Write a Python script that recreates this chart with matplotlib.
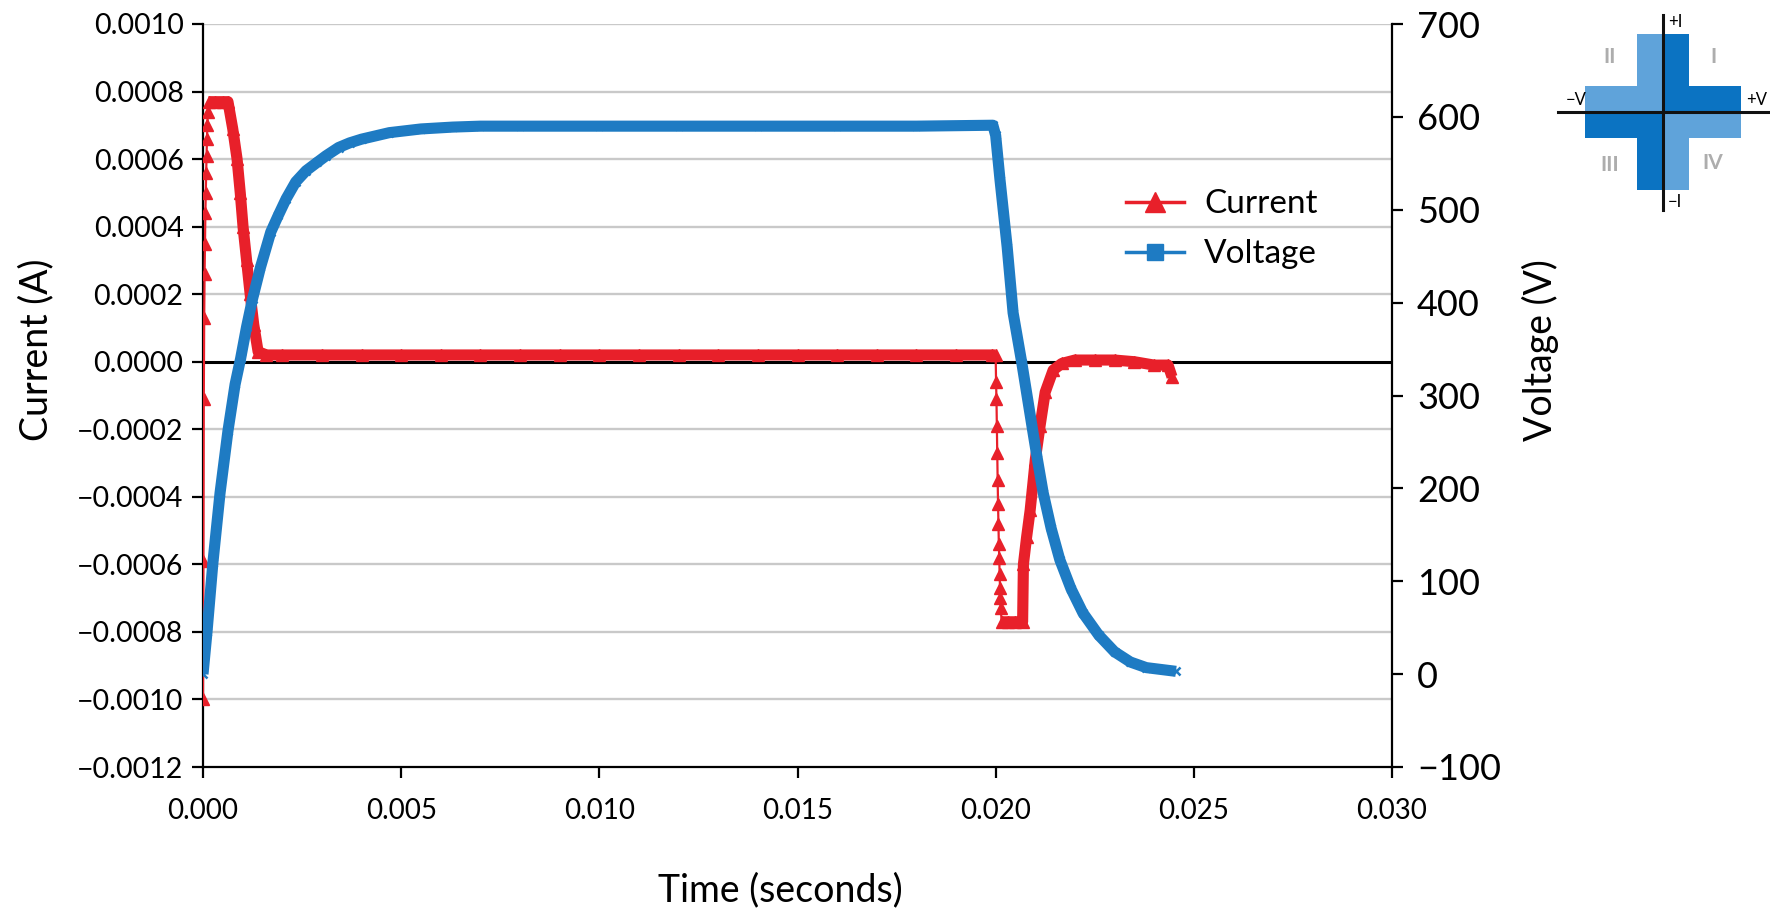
import matplotlib
matplotlib.use("Agg")
import matplotlib.pyplot as plt
import numpy as np
from matplotlib.lines import Line2D
from matplotlib.patches import Polygon
from matplotlib.ticker import FixedLocator, FuncFormatter

plt.rcParams["font.family"] = ["Lato", "DejaVu Sans"]

RED = "#E8202A"
BLUE = "#1E7BC3"
GRID = "#C9C9C9"

# --- data ------------------------------------------------------------------
# current (A) vs time (s)
cur_t = [
    0.00000, 0.00001, 0.00002, 0.00003, 0.00004, 0.00005, 0.00006, 0.00007,
    0.00008, 0.00009, 0.00010, 0.00011, 0.00012, 0.00014,
    0.00030, 0.00050, 0.00063,
    0.00075, 0.00086, 0.00094, 0.00101, 0.00110, 0.00119, 0.00128, 0.00139,
    0.0016, 0.0020, 0.0030, 0.0040, 0.0050, 0.0060, 0.0070, 0.0080, 0.0090,
    0.0100, 0.0110, 0.0120, 0.0130, 0.0140, 0.0150, 0.0160, 0.0170, 0.0180,
    0.0190, 0.0199,
    0.02000, 0.02001, 0.02002, 0.02003, 0.02004, 0.02005, 0.02006, 0.02007,
    0.02008, 0.02009, 0.02010, 0.02011, 0.02012, 0.02013, 0.02015,
    0.0203, 0.0205, 0.02068,
    0.02070, 0.02078, 0.02087, 0.02094, 0.02100, 0.02112, 0.02125, 0.02145,
    0.02167, 0.0220, 0.0225, 0.0230, 0.0235, 0.0240, 0.02435, 0.02445,
]
cur_a = [
    -0.00100, -0.00059, -0.00011, 0.00013, 0.00026, 0.00035, 0.00044, 0.00050,
    0.00056, 0.00061, 0.00066, 0.00070, 0.00074, 0.00077,
    0.00077, 0.00077, 0.00077,
    0.00069, 0.00060, 0.00050, 0.00040, 0.00030, 0.00020, 0.00011, 0.00003,
    0.00002, 0.00002, 0.00002, 0.00002, 0.00002, 0.00002, 0.00002, 0.00002, 0.00002,
    0.00002, 0.00002, 0.00002, 0.00002, 0.00002, 0.00002, 0.00002, 0.00002, 0.00002,
    0.00002, 0.00002,
    0.00002, -0.00006, -0.00011, -0.00019, -0.00027, -0.00035, -0.00042, -0.00048,
    -0.00054, -0.00058, -0.00063, -0.00067, -0.00070, -0.00073, -0.00077,
    -0.00077, -0.00077, -0.00077,
    -0.00060, -0.00052, -0.00044, -0.00036, -0.00029, -0.00019, -0.00009, -0.000025,
    -0.000005, 0.000005, 0.000005, 0.000005, 0.0, -0.00001, -0.00001, -0.000045,
]

# voltage (V) vs time (s)
volt_t = [
    0.0, 0.00010, 0.00025, 0.00043, 0.00063, 0.00081, 0.00095, 0.00110,
    0.00125, 0.00145, 0.00171, 0.00190, 0.00210, 0.00234, 0.00260, 0.00288,
    0.00310, 0.00342, 0.0037, 0.0040, 0.0047, 0.0055, 0.0063, 0.0070, 0.0080,
    0.0100, 0.0120, 0.0140, 0.0160, 0.0180, 0.01993,
    0.02000, 0.02011, 0.02029, 0.02044, 0.02066, 0.02092, 0.02105, 0.0212,
    0.02140, 0.02162, 0.02190, 0.0222, 0.02260, 0.0230, 0.02340, 0.0238, 0.02455,
]
volt_v = [
    0, 45, 120, 195, 262, 312, 340, 374,
    404, 438, 476, 494, 512, 530, 542, 551,
    558, 567, 572, 576, 583, 587, 589, 590, 590,
    590, 590, 590, 590, 590, 591,
    580, 532, 460, 389, 335, 266, 232, 195,
    157, 123, 92, 66, 42, 24, 13, 7, 3,
]

cur_ticks = [0.0010, 0.0008, 0.0006, 0.0004, 0.0002, 0.0, -0.0002, -0.0004,
             -0.0006, -0.0008, -0.0010, -0.0012]
volt_ticks = [700, 600, 500, 400, 300, 200, 100, 0, -100]
time_ticks = [0.000, 0.005, 0.010, 0.015, 0.020, 0.025, 0.030]

W, H = 1770, 910
fig = plt.figure(figsize=(W / 100, H / 100), dpi=100)
ax = fig.add_axes([203 / W, 1 - 767 / H, (1392 - 203) / W, (767 - 24) / H])
ax2 = ax.twinx()

t = np.asarray(cur_t)
a = np.asarray(cur_a)
# steep sample runs are drawn as thin line + markers, the rest as a dense band
dt = np.diff(t)
gap_before = np.r_[0.0, dt]
gap_after = np.r_[dt, 0.0]
steep = (gap_before < 2.5e-5) & (gap_after < 2.5e-5)
band = np.where(steep, np.nan, a)

ax.set_xlim(0, 0.030)
ax.set_ylim(-0.0012, 0.0010)
for v in cur_ticks:
    if v == 0.0 or v == -0.0012:
        continue
    ax.axhline(v, color=GRID, lw=1.7, zorder=0)
ax.axhline(0.0, color="black", lw=2.2, zorder=1)

ax.plot(t, band, color=RED, lw=8, solid_capstyle="butt", zorder=2)
ax.plot(t, a, color=RED, lw=1.6, marker="^", ms=8.5, mec=RED, mfc=RED, zorder=3)

ax2.set_ylim(-100, 700)
ax2.plot(volt_t, volt_v, color=BLUE, lw=8, solid_capstyle="butt", zorder=2)
ax2.plot(volt_t, volt_v, color=BLUE, lw=0, marker="x", ms=6, mew=1.8, zorder=3)

# axes styling
for a_ in (ax, ax2):
    a_.spines["top"].set_visible(False)
    for side in ("left", "right", "bottom"):
        a_.spines[side].set_linewidth(1.6)
ax.spines["right"].set_visible(False)
ax2.spines["left"].set_visible(False)
ax2.spines["bottom"].set_visible(False)

ax.yaxis.set_major_locator(FixedLocator(cur_ticks))
ax.yaxis.set_major_formatter(
    FuncFormatter(lambda v, p: ("0.0000" if abs(v) < 1e-9 else f"{v:.4f}").replace("-", "\u2212")))
ax2.yaxis.set_major_locator(FixedLocator(volt_ticks))
ax2.yaxis.set_major_formatter(FuncFormatter(lambda v, p: f"{v:.0f}".replace("-", "\u2212")))
ax.xaxis.set_major_locator(FixedLocator(time_ticks))
ax.xaxis.set_major_formatter(FuncFormatter(lambda v, p: f"{v:.3f}"))

ax.tick_params(axis="y", direction="out", length=8, width=1.6, labelsize=20.5, pad=6)
ax.tick_params(axis="x", direction="out", length=8, width=1.6, labelsize=20, pad=14)
ax2.tick_params(axis="y", direction="out", length=8, width=1.6, labelsize=26, pad=10)

ax.set_xlabel("Time (seconds)", fontsize=27)
ax.set_ylabel("Current (A)", fontsize=27)
ax2.set_ylabel("Voltage (V)", fontsize=27, rotation=90)
ax.xaxis.set_label_coords(0.486, -0.142)
ax.yaxis.set_label_coords(-0.125, 0.561)
ax2.yaxis.set_label_coords(1.109, 0.561)

handles = [
    Line2D([], [], color=RED, lw=2.5, marker="^", ms=14),
    Line2D([], [], color=BLUE, lw=2.5, marker="s", ms=12),
]
ax2.legend(handles, ["Current", "Voltage"], loc="upper left",
           bbox_to_anchor=(0.762, 0.80), frameon=False, fontsize=24,
           handlelength=1.75, handletextpad=0.6, labelspacing=0.6, borderpad=0)

# quadrant diagram (top right)
ins = fig.add_axes([1540 / W, 1 - 230 / H, 230 / W, 230 / H])
ins.set_xlim(-123, 107)
ins.set_ylim(-118, 112)
ins.axis("off")
L, w = 78, 26
dark, light = "#0B73C2", "#5FA3DA"
for sx, sy, col in [(1, 1, dark), (-1, 1, light), (-1, -1, dark), (1, -1, light)]:
    pts = [(0, 0), (0, L), (w, L), (w, w), (L, w), (L, 0)]
    ins.add_patch(Polygon([(sx * x, sy * y) for x, y in pts], closed=True,
                          facecolor=col, edgecolor="none"))
ins.plot([0, 0], [-98, 97], color="#111111", lw=2.2)
ins.plot([-105, 107], [0, 0], color="#111111", lw=2.2)
ins.text(5, 90, "+I", fontsize=12, ha="left", va="center")
ins.text(5, -90, "\u2212I", fontsize=12, ha="left", va="center")
ins.text(-87, 12, "\u2212V", fontsize=12, ha="center", va="center")
ins.text(94, 12, "+V", fontsize=12, ha="center", va="center")
for x, y, s in [(-53, 55, "II"), (50, 55, "I"), (-53, -53, "III"), (50, -51, "IV")]:
    ins.text(x, y, s, fontsize=15, ha="center", va="center", color="#ADADAD",
             fontweight="bold")

fig.savefig("out.png", dpi=100)
